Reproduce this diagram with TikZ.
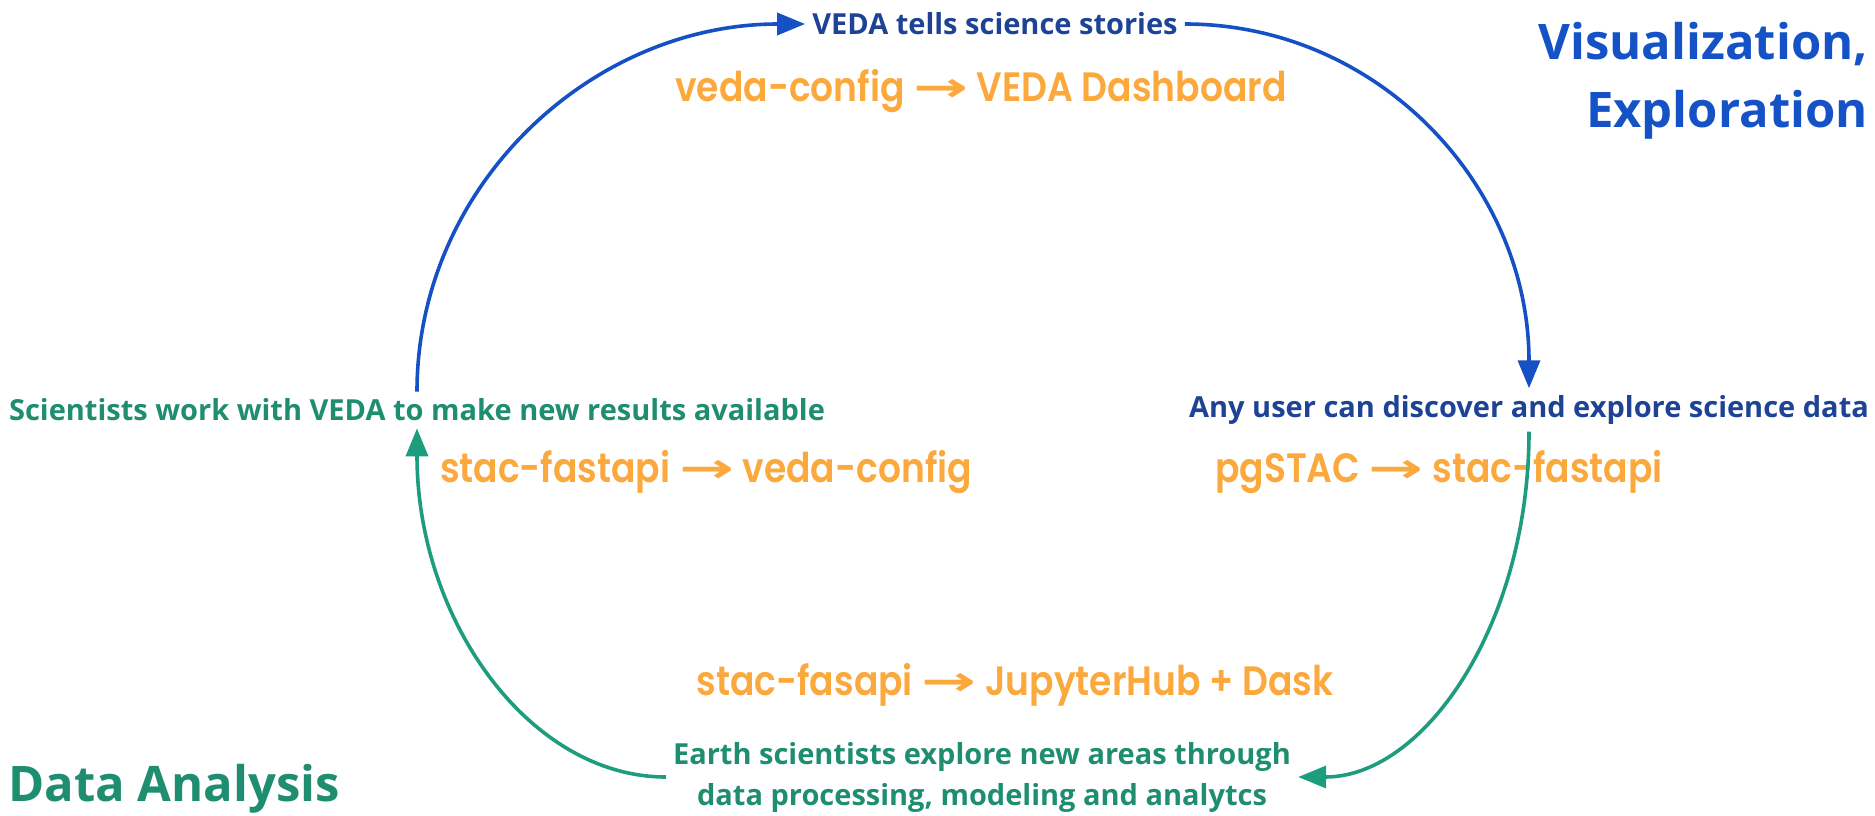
\documentclass[tikz,border=0pt]{standalone}
\usepackage{fontspec}
\setmainfont{Open Sans}
\newfontfamily\popp{Poppins SemiBold}[FakeStretch=0.88]
\newfontfamily\arr{DejaVu Sans Bold}
\usetikzlibrary{arrows.meta}
\definecolor{bluearrow}{HTML}{1550C4}
\definecolor{bluetext}{HTML}{1E4396}
\definecolor{bluetitle}{HTML}{1452C6}
\definecolor{greenarrow}{HTML}{1E9C7E}
\definecolor{greentext}{HTML}{1F8E70}
\definecolor{orangetext}{HTML}{FBA83D}
\tikzset{
  stage/.style={font=\fontsize{29}{34}\selectfont\bfseries, inner sep=7pt},
  title/.style={font=\fontsize{49}{68}\selectfont\bfseries, inner sep=0pt},
  tech/.style={font=\fontsize{41}{48}\selectfont\popp, text=orangetext, inner sep=0pt},
  link/.style={line width=3.6pt, -{Triangle[length=28pt,width=22pt]}},
}
\newcommand{\ar}{{\arr\scalebox{1.6}[1]{→}}}
\begin{document}
\begin{tikzpicture}[x=1pt,y=-1pt]
\useasboundingbox (0,0) rectangle (1875,816);
% stage texts
\node[stage, text=bluetext] (top) at (995,24) {VEDA tells science stories};
\node[stage, text=bluetext] (right) at (1529,410) {Any user can discover and explore science data};
\node[stage, text=greentext] (left) at (417,410) {Scientists work with VEDA to make new results available};
\node[stage, text=greentext, align=center, font=\fontsize{29}{41}\selectfont\bfseries] (bottom) at (982,777) {Earth scientists explore new areas through\\data processing, modeling and analytcs};
% titles
\node[title, text=bluetitle, align=right, anchor=north east] (viz) at (1868,22) {Visualization,\\Exploration};
\node[title, text=greentext, anchor=west] (da) at (8,789) {Data Analysis};
% tech labels
\node[tech] (t1) at (981,91) {veda-config \ar{} VEDA Dashboard};
\node[tech] (t2) at (706,472) {stac-fastapi \ar{} veda-config};
\node[tech] (t3) at (1439,472) {pgSTAC \ar{} stac-fastapi};
\node[tech] (t4) at (1015,685) {stac-fasapi \ar{} JupyterHub + Dask};
% connectors
\draw[link, bluearrow] (left.north) .. controls +(0,-206) and +(-214,0) .. (top.west);
\draw[link, bluearrow] (top.east) .. controls +(193,0) and +(0,-203) .. (right.north);
\draw[link, greenarrow] (right.south) .. controls +(0,193) and +(126,0) .. (bottom.east);
\draw[link, greenarrow] (bottom.west) .. controls +(-136,0) and +(0,192) .. (left.south);
\end{tikzpicture}
\end{document}
